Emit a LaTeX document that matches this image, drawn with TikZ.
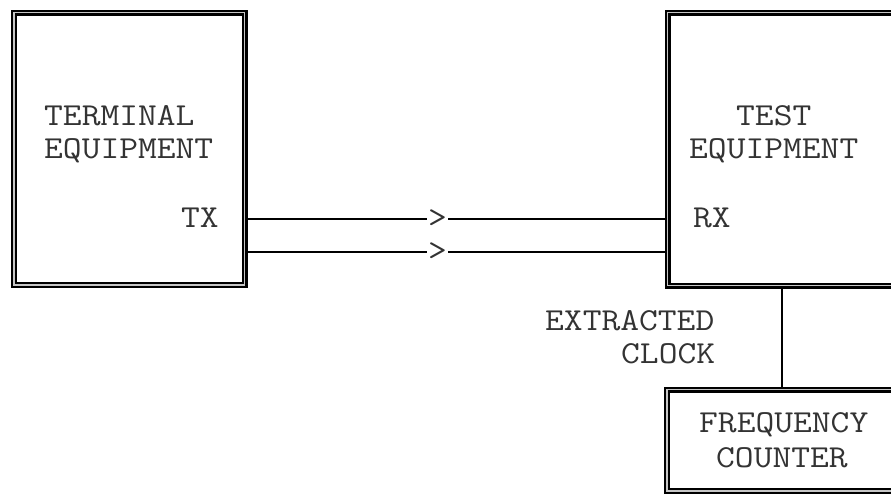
\documentclass[tikz,border=0pt]{standalone}
\usepackage{fontspec}
\newcommand\widetxt[1]{\scalebox{1.14}[1]{#1}}
\begin{document}
\begin{tikzpicture}[x=1pt,y=-1pt,
  dbox/.style={draw=black, line width=2.4pt, double=gray!45, double distance=1.2pt, inner sep=0pt},
  lbl/.style={font=\fontsize{32}{33}\selectfont\ttfamily, text=black!80, inner sep=0pt},
  wire/.style={line width=1.6pt}]
\useasboundingbox (0,0) rectangle (891,493);
\clip (0,0) rectangle (891,493);
% boxes
\node[dbox, minimum width=230.5pt, minimum height=272.5pt] (term) at (129.25,148.75) {};
\node[dbox, minimum width=262.5pt, minimum height=273pt] (test) at (798.75,149) {};
\node[dbox, minimum width=263pt, minimum height=101.5pt] (freq) at (798.5,440.25) {};
% labels
\node[lbl, anchor=base west] (t1) at (44,125) {\widetxt{TERMINAL}};
\node[lbl, anchor=base west] (t2) at (44,158) {\widetxt{EQUIPMENT}};
\node[lbl, anchor=base west] (tx) at (181,227) {\widetxt{TX}};
\node[lbl, anchor=base west] (e1) at (736,125) {\widetxt{TEST}};
\node[lbl, anchor=base west] (e2) at (689,158) {\widetxt{EQUIPMENT}};
\node[lbl, anchor=base west] (rx) at (693,227) {\widetxt{RX}};
\node[lbl, anchor=base west] (c1) at (545,330) {\widetxt{EXTRACTED}};
\node[lbl, anchor=base west] (c2) at (621,363) {\widetxt{CLOCK}};
\node[lbl, anchor=base west] (f1) at (699,432) {\widetxt{FREQUENCY}};
\node[lbl, anchor=base west] (f2) at (716,467) {\widetxt{COUNTER}};
% connectors
\coordinate (ya) at (0,219);
\coordinate (yb) at (0,252);
\coordinate (xc) at (782,0);
\draw[wire] (term.east |- ya) -- node[lbl, pos=0.456, fill=white, inner xsep=1pt] (a1) {\widetxt{>}} (test.west |- ya);
\draw[wire] (term.east |- yb) -- node[lbl, pos=0.456, fill=white, inner xsep=1pt] (a2) {\widetxt{>}} (test.west |- yb);
\draw[wire] (test.south -| xc) -- (freq.north -| xc);
\end{tikzpicture}
\end{document}
